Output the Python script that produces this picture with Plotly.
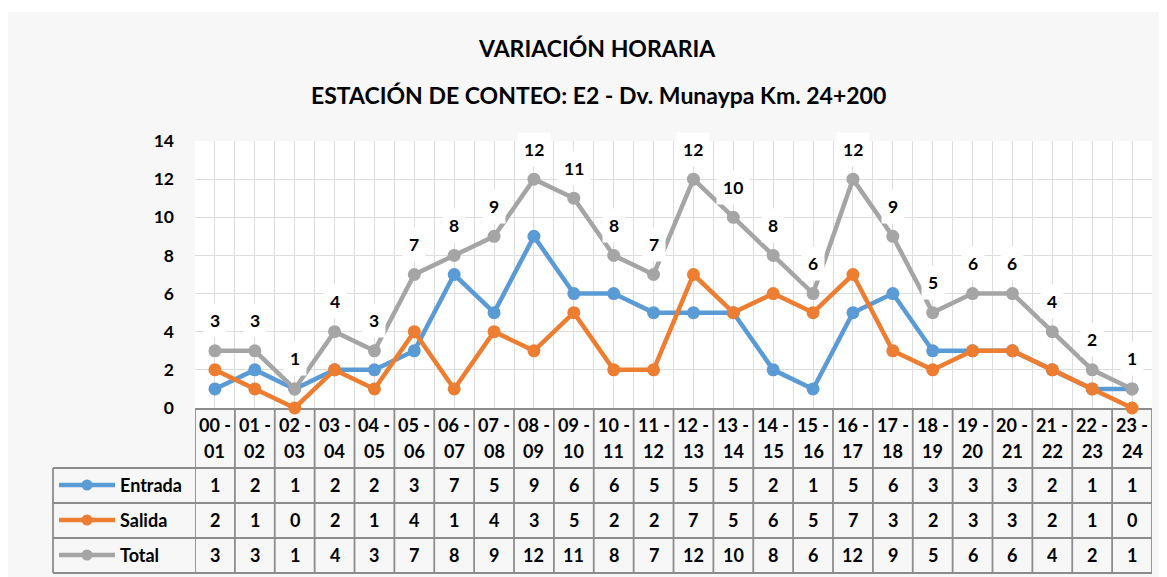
import plotly.graph_objects as go

# ---------------- data ----------------
HOURS = ["00 - 01", "01 - 02", "02 - 03", "03 - 04", "04 - 05", "05 - 06",
         "06 - 07", "07 - 08", "08 - 09", "09 - 10", "10 - 11", "11 - 12",
         "12 - 13", "13 - 14", "14 - 15", "15 - 16", "16 - 17", "17 - 18",
         "18 - 19", "19 - 20", "20 - 21", "21 - 22", "22 - 23", "23 - 24"]
ENTRADA = [1, 2, 1, 2, 2, 3, 7, 5, 9, 6, 6, 5, 5, 5, 2, 1, 5, 6, 3, 3, 3, 2, 1, 1]
SALIDA = [2, 1, 0, 2, 1, 4, 1, 4, 3, 5, 2, 2, 7, 5, 6, 5, 7, 3, 2, 3, 3, 2, 1, 0]
TOTAL = [3, 3, 1, 4, 3, 7, 8, 9, 12, 11, 8, 7, 12, 10, 8, 6, 12, 9, 5, 6, 6, 4, 2, 1]
SERIES_NAMES = ["Entrada", "Salida", "Total"]
Y_TICKS = [0, 2, 4, 6, 8, 10, 12, 14]
TITLE = "VARIACIÓN HORARIA"
SUBTITLE = "ESTACIÓN DE CONTEO: E2 - Dv. Munaypa Km. 24+200"

# ---------------- styles ----------------
COLORS = ["#5B9BD5", "#ED7D31", "#A5A5A5"]
OFF = 8                      # page body margin
W, H = 1167 - OFF, 577 - OFF
PL, PR, PT, PB = 195 - OFF, 1152 - OFF, 141 - OFF, 408 - OFF   # plot area (figure px)
FONT = "Lato"
GRID = "#DDDDDD"
BORDER = "#8C8C8C"
FS = 17.5
FS_TABLE = 18


def px_x(p):
    """page pixel -> paper x"""
    return (p - OFF - PL) / (PR - PL)


def px_y(p):
    """page pixel -> paper y"""
    return (PB - (p - OFF)) / (PB - PT)


series = [ENTRADA, SALIDA, TOTAL]
xs = list(range(len(HOURS)))

fig = go.Figure()
for name, vals, col in zip(SERIES_NAMES, series, COLORS):
    fig.add_trace(go.Scatter(
        x=xs, y=vals, name=name, mode="lines+markers",
        line=dict(color=col, width=4.5),
        marker=dict(color=col, size=13),
        cliponaxis=False, showlegend=False, hoverinfo="skip"))

annotations = []
shapes = []

# titles
annotations.append(dict(text=TITLE, xref="paper", yref="paper",
                        x=px_x(597), y=px_y(48), xanchor="center", yanchor="middle",
                        showarrow=False, font=dict(size=23)))
annotations.append(dict(text=SUBTITLE, xref="paper", yref="paper",
                        x=px_x(598), y=px_y(95), xanchor="center", yanchor="middle",
                        showarrow=False, font=dict(size=23)))

# total data labels
for i, t in enumerate(TOTAL):
    annotations.append(dict(text=str(t), x=i, y=t, xref="x", yref="y",
                            yshift=30, xanchor="center", yanchor="middle",
                            showarrow=False, bgcolor="white",
                            borderpad=6, font=dict(size=FS)))

# header row (category labels)
for i, h in enumerate(HOURS):
    a, b = h.split(" - ")
    annotations.append(dict(text=a + " -", x=i, y=px_y(425), xref="x", yref="paper",
                            xanchor="center", yanchor="middle",
                            showarrow=False, font=dict(size=FS_TABLE)))
    annotations.append(dict(text=b, x=i, y=px_y(451), xref="x", yref="paper",
                            xanchor="center", yanchor="middle",
                            showarrow=False, font=dict(size=FS_TABLE)))

# data table rows
row_y = [485, 520, 555]
for name, vals, col, ry in zip(SERIES_NAMES, series, COLORS, row_y):
    for i, v in enumerate(vals):
        annotations.append(dict(text=str(v), x=i, y=px_y(ry), xref="x", yref="paper",
                                xanchor="center", yanchor="middle",
                                showarrow=False, font=dict(size=FS_TABLE)))
    annotations.append(dict(text=name, x=px_x(118), y=px_y(ry), xref="paper",
                            yref="paper", xanchor="left", yanchor="middle",
                            showarrow=False, font=dict(size=FS_TABLE)))
    shapes.append(dict(type="line", xref="paper", yref="paper",
                       x0=px_x(59), x1=px_x(115), y0=px_y(ry), y1=px_y(ry),
                       line=dict(color=col, width=4.5)))
    shapes.append(dict(type="circle", xref="paper", yref="paper",
                       x0=px_x(87 - 5.5), x1=px_x(87 + 5.5),
                       y0=px_y(ry - 5.5), y1=px_y(ry + 5.5),
                       fillcolor=col, line=dict(color=col, width=0)))


# table borders
def hline(y, x0, x1):
    shapes.append(dict(type="line", xref="paper", yref="paper",
                       x0=px_x(x0), x1=px_x(x1), y0=px_y(y), y1=px_y(y),
                       line=dict(color=BORDER, width=1.8)))


def vline_data(xv, y0, y1):
    shapes.append(dict(type="line", xref="x", yref="paper",
                       x0=xv, x1=xv, y0=px_y(y0), y1=px_y(y1),
                       line=dict(color=BORDER, width=1.8)))


for yy in [468, 503, 538, 573]:
    hline(yy, 53, PR + OFF)
for k in range(len(HOURS) + 1):
    vline_data(k - 0.5, 409, 573)
shapes.append(dict(type="line", xref="paper", yref="paper",
                   x0=px_x(53), x1=px_x(53), y0=px_y(468), y1=px_y(573),
                   line=dict(color=BORDER, width=1.8)))

# thin white strip at the very top of the page
shapes.append(dict(type="rect", xref="paper", yref="paper",
                   x0=px_x(0), x1=px_x(1167), y0=px_y(0), y1=px_y(12),
                   fillcolor="white", line=dict(width=0), layer="below"))

fig.update_layout(
    width=W, height=H,
    margin=dict(l=PL, r=W - PR, t=PT, b=H - PB, pad=0),
    paper_bgcolor="#F7F7F7", plot_bgcolor="white",
    font=dict(family=FONT, size=FS, color="black", weight="bold"),
    annotations=annotations, shapes=shapes,
    xaxis=dict(range=[-0.5, len(HOURS) - 0.5], tickmode="array", tickvals=xs,
               showticklabels=False, ticks="", showgrid=True, gridcolor=GRID,
               gridwidth=1, zeroline=False, showline=True, linecolor=BORDER,
               linewidth=1.8, layer="below traces", fixedrange=True,
               minor=dict(tickmode="array",
                          tickvals=[k - 0.5 for k in range(len(HOURS) + 1)],
                          showgrid=True, gridcolor=GRID, gridwidth=1)),
    yaxis=dict(range=[0, 14], tickmode="array", tickvals=Y_TICKS,
               showgrid=True, gridcolor=GRID, gridwidth=1, zeroline=False,
               showline=False, ticks="", ticklabelstandoff=20,
               tickfont=dict(size=FS), fixedrange=True),
)

fig.write_html("out.html")
